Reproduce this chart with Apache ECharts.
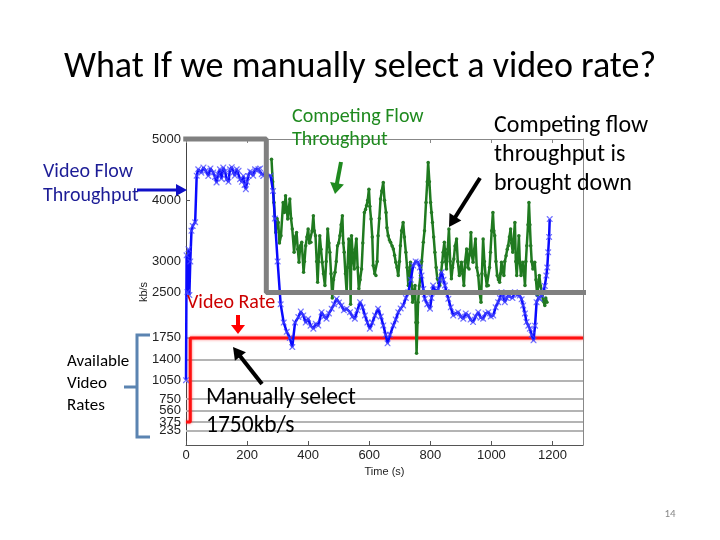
<!DOCTYPE html>
<html>
<head>
<meta charset="utf-8">
<script src="https://cdn.jsdelivr.net/npm/echarts@6/dist/echarts.min.js"></script>
<style>html,body{margin:0;padding:0;background:#fff;}#c{width:720px;height:540px;}</style>
</head>
<body>
<div id="c"></div>
<script>
// ---- data ----
var yTicks = [750, 1050, 1400, 1750, 2500, 3000, 4000, 5000];
var yTicksLow = [235, 375, 560];   // crowded labels, each drawn on its own label-only axis
var rateLines = [235, 375, 560, 750, 1050, 1400, 1750];
var xTicks = [0, 200, 400, 600, 800, 1000, 1200];

var videoRateT = [0, 14, 14, 1300];
var videoRateV = [375, 375, 1750, 1750];

var blueT = [0,2,5,8,11,14,18,22,30,35,40,50,57,65,73,80,89,95,100,105,111,116,122,128,133,139,144,150,155,160,166,172,177,183,188,192,196,200,204,210,215,220,226,232,237,243,248,253,
  277,285,291,300,310,320,330,340,348,357,368,376,384,392,400,408,417,425,433,444,452,460,468,477,485,493,501,509,517,526,537,545,553,561,570,578,586,594,602,610,619,629,638,646,654,660,668,679,687,695,703,711,720,728,736,744,752,760,766,771,777,782,790,799,804,809,817,826,831,837,843,848,853,859,867,875,883,891,900,908,916,924,932,940,948,957,965,973,981,990,998,1006,1014,1022,1028,1033,1039,1044,1050,1055,1061,1069,1077,1085,1093,1099,1104,1110,1115,1121,1126,1132,1138,1143,1148,1154,1159,1165,1170,1175,1180,1183,1186,1189,1191];
var blueV = [1060,3100,2500,3200,2450,3000,3500,3580,3640,4400,4506,4450,4533,4480,4397,4520,4452,4380,4289,4420,4506,4350,4533,4470,4343,4300,4506,4540,4452,4400,4506,4480,4343,4300,4397,4250,4180,4300,4397,4470,4452,4400,4506,4480,4506,4520,4425,4397,
  4400,4150,3700,3000,2300,2000,1850,1750,1600,2000,2090,2180,2117,2000,2063,1950,1900,1980,1954,2171,2100,2063,2150,2226,2300,2389,2330,2280,2200,2226,2171,2100,2063,2200,2334,2250,2117,2000,1900,2000,2117,2226,2100,1954,1800,1661,1800,1954,2050,2171,2230,2280,2400,2497,2700,2932,3000,2986,2900,2769,2550,2389,2300,2226,2400,2606,2500,2550,2700,2823,2700,2606,2500,2389,2250,2117,2150,2171,2100,2063,2150,2117,2050,2008,2100,2171,2080,2063,2150,2171,2100,2117,2250,2334,2400,2497,2420,2334,2400,2443,2443,2400,2497,2450,2443,2380,2280,2150,2008,1950,1900,1800,1710,1950,2334,2400,2389,2450,2497,2600,2769,2900,3149,3400,3692];

var greenT = [280,284,288,294,298,302,306,311,318,322,326,333,340,344,348,354,358,362,366,370,374,379,385,388,392,396,400,404,409,413,417,420,424,428,431,434,438,442,446,450,455,459,464,468,471,475,479,483,488,492,496,500,504,508,512,515,518,522,526,529,533,537,539,542,546,551,554,558,562,566,570,575,579,584,588,591,595,599,602,606,610,613,618,622,626,629,633,637,641,646,650,655,658,662,666,670,675,679,683,687,691,695,699,702,706,711,715,720,724,728,732,735,739,742,746,750,753,755,758,760,764,768,772,777,781,786,790,793,797,801,804,807,811,815,819,823,827,831,835,839,842,846,850,853,857,861,865,869,873,877,881,886,890,895,898,902,906,910,914,919,923,927,930,933,936,940,944,948,952,957,961,966,969,973,977,981,985,990,994,997,1001,1005,1008,1011,1015,1019,1023,1027,1030,1033,1037,1041,1044,1048,1052,1055,1059,1063,1066,1070,1073,1077,1080,1083,1087,1090,1093,1097,1100,1103,1107,1110,1113,1116,1120,1123,1126,1129,1132,1136,1139,1142,1146,1150,1153,1157,1161,1166,1170,1175,1178,1182];
var greenV = [4669,4300,3963,3474,3700,3637,3300,3420,3963,3800,4072,3692,4018,3700,3529,3149,3400,3474,3200,2986,3250,3312,2823,3000,3257,3400,3529,3300,3312,3500,3746,3500,3420,3000,2660,3000,3420,3200,2986,2800,2606,3000,3529,3300,3149,2800,2400,2700,2823,3000,3257,3300,3420,3600,3746,3300,3149,2800,2497,2900,3366,3300,2300,3420,3100,2877,3200,3366,2900,2552,2700,2877,3300,3800,3850,3909,4000,4180,3900,3692,3400,2932,2800,2769,3000,3420,3700,4018,4150,4289,4000,3800,3550,3420,3350,3312,3250,3203,3100,2986,2900,2769,3000,3257,3500,3637,3400,3149,2900,2606,2800,2986,2600,2334,2500,2606,2000,1500,2000,2334,2600,2769,3000,3312,3500,3963,4300,4614,4300,3963,3800,3637,3400,3149,2900,2715,2650,2606,2800,2986,3150,3312,3000,2877,3200,3529,3000,2715,2900,3040,3250,3366,3000,2769,2850,2986,2800,2606,3000,3203,2900,2877,3200,3474,3100,2986,3200,3366,2900,2769,2500,2334,2800,3366,3000,2769,2600,2606,2900,3149,3500,3800,3500,3420,3000,2769,2700,2660,2800,2986,2850,2769,3000,3094,3200,3257,3400,3529,3300,3149,3350,3637,3000,2769,3100,3420,3000,2769,2900,2986,2800,2606,3000,3257,3600,3963,3600,3257,3000,2877,2950,2986,2700,2443,2600,2769,2600,2443,2350,2280,2400,2334];

// highlight box (gray outline) in data coordinates
var boxT = [-9, 263, 263, 1312];
var boxV = [5000, 5000, 2490, 2490];

function zip(a, b) { return a.map(function (v, i) { return [v, b[i]]; }); }

var FONT = "Carlito, Lato, 'Open Sans', sans-serif";

function arrow(x1, y1, x2, y2, color, w, hl, hw) {
  var dx = x2 - x1, dy = y2 - y1, L = Math.sqrt(dx * dx + dy * dy);
  var ux = dx / L, uy = dy / L, px = -uy, py = ux;
  var bx = x2 - ux * hl, by = y2 - uy * hl;
  return [
    { type: 'line', z: 100, shape: { x1: x1, y1: y1, x2: bx + ux * 1, y2: by + uy * 1 }, style: { stroke: color, lineWidth: w } },
    { type: 'polygon', z: 100, shape: { points: [[x2, y2], [bx + px * hw, by + py * hw], [bx - px * hw, by - py * hw]] }, style: { fill: color } }
  ];
}
function txt(s, x, y, size, color, align) {
  return { type: 'text', z: 100, x: x, y: y, style: { text: s, fill: color, font: size + 'px ' + FONT, textAlign: align || 'left', textVerticalAlign: 'middle' } };
}

var xMark = 'path://M0,0L1.5,0L5,3.5L8.5,0L10,0L10,1.5L6.5,5L10,8.5L10,10L8.5,10L5,6.5L1.5,10L0,10L0,8.5L3.5,5L0,1.5Z';

var graphics = [];
graphics.push(txt('What If we manually select a video rate?', 360, 68, 36, '#000', 'center'));
graphics.push(txt('Competing Flow', 292, 117, 20, '#1f8a1f'));
graphics.push(txt('Throughput', 292, 140, 20, '#1f8a1f'));
graphics.push(txt('Competing flow', 494, 126, 24, '#000'));
graphics.push(txt('throughput is', 494, 155, 24, '#000'));
graphics.push(txt('brought down', 494, 184, 24, '#000'));
graphics.push(txt('Video Flow', 43, 172, 20, '#1c1c96'));
graphics.push(txt('Throughput', 43, 196, 20, '#1c1c96'));
graphics.push(txt('Video Rate', 187, 303, 20, '#cc0000'));
graphics.push(txt('Available', 67, 362, 17, '#000'));
graphics.push(txt('Video', 67, 384, 17, '#000'));
graphics.push(txt('Rates', 67, 406, 17, '#000'));
graphics.push(txt('Manually select', 206, 398, 23.5, '#000'));
graphics.push(txt('1750kb/s', 206, 426, 23.5, '#000'));
graphics.push(txt('14', 670, 514, 11, '#888', 'center'));
graphics = graphics.concat(arrow(137, 190, 187, 190, '#1010c8', 3, 11, 6));
graphics = graphics.concat(arrow(341, 162, 335, 194, '#1f8a1f', 4, 11, 7));
graphics = graphics.concat(arrow(238, 315, 238, 334, '#ff0000', 4, 9, 7));
graphics = graphics.concat(arrow(480, 178, 449, 227, '#000', 4, 12, 7));
graphics = graphics.concat(arrow(262, 384, 233, 347, '#000', 4, 12, 7));
graphics.push({ type: 'polyline', z: 100, shape: { points: [[150, 335], [137, 335], [137, 437], [150, 437]] }, style: { stroke: '#5b84b1', lineWidth: 3, fill: null } });
graphics.push({ type: 'line', z: 100, shape: { x1: 137, y1: 387, x2: 124, y2: 387 }, style: { stroke: '#5b84b1', lineWidth: 3 } });

function plain(v) { return String(v); }
var labelFont = { fontFamily: 'Liberation Sans', fontSize: 13, color: '#222' };

var yAxes = [{
  type: 'value', min: 0, max: 5000, position: 'left',
  name: 'kb/s', nameLocation: 'middle', nameGap: 37, nameRotate: 90, nameMoveOverlap: false,
  nameTextStyle: { fontFamily: 'Liberation Sans', fontSize: 11, color: '#222' },
  axisLine: { show: true, lineStyle: { color: '#444', width: 1 } },
  axisTick: { show: true, inside: true, length: 4, customValues: yTicks.concat(yTicksLow), lineStyle: { color: '#555' } },
  axisLabel: Object.assign({ customValues: yTicks, formatter: plain, hideOverlap: false, margin: 5 }, labelFont),
  splitLine: { show: false }
}, {
  type: 'value', min: 0, max: 5000, position: 'right',
  axisLine: { show: true, onZero: false, lineStyle: { color: '#888', width: 1 } },
  axisTick: { show: false }, axisLabel: { show: false }, splitLine: { show: false }
}];
yTicksLow.forEach(function (v) {
  yAxes.push({
    type: 'value', min: 0, max: 5000, position: 'left', offset: 0,
    axisLine: { show: false }, axisTick: { show: false }, splitLine: { show: false },
    axisLabel: Object.assign({ customValues: [v], formatter: plain, margin: 5 }, labelFont)
  });
});

var chart = echarts.init(document.getElementById('c'));
chart.setOption({
  animation: false,
  backgroundColor: '#fff',
  grid: { left: 186, right: 137, top: 139, bottom: 95 },
  xAxis: [{
    type: 'value', min: 0, max: 1300, interval: 200, position: 'bottom',
    name: 'Time (s)', nameLocation: 'middle', nameGap: 15,
    nameTextStyle: { fontFamily: 'Liberation Sans', fontSize: 11, color: '#222' },
    axisLine: { show: true, lineStyle: { color: '#555', width: 1 } },
    axisTick: { show: true, inside: true, length: 4, customValues: xTicks, lineStyle: { color: '#555' } },
    axisLabel: Object.assign({ customValues: xTicks, formatter: plain, hideOverlap: false, margin: 4 }, labelFont),
    splitLine: { show: false }
  }, {
    type: 'value', min: 0, max: 1300, position: 'top',
    axisLine: { show: true, onZero: false, lineStyle: { color: '#888', width: 1 } },
    axisTick: { show: true, inside: true, length: 4, customValues: xTicks, lineStyle: { color: '#888' } },
    axisLabel: { show: false }, splitLine: { show: false }
  }],
  yAxis: yAxes,
  series: [{
    type: 'line', name: 'Video Rate', data: zip(videoRateT, videoRateV),
    showSymbol: false, z: 3,
    lineStyle: { color: '#ff1010', width: 3, shadowColor: 'rgba(255,40,40,0.7)', shadowBlur: 3 },
    markLine: {
      silent: true, symbol: 'none', label: { show: false }, z: 1,
      lineStyle: { color: '#b4b4b4', width: 2, type: 'solid' },
      data: rateLines.map(function (v) { return { yAxis: v }; })
    }
  }, {
    type: 'line', name: 'Competing Flow', data: zip(greenT, greenV), z: 4,
    symbol: 'circle', symbolSize: 3.5, showAllSymbol: true,
    itemStyle: { color: '#237a23' },
    lineStyle: { color: '#1f7a1f', width: 2.5 }
  }, {
    type: 'line', name: 'Video Flow', data: zip(blueT, blueV), z: 5,
    symbol: xMark, symbolSize: 6, showAllSymbol: true,
    itemStyle: { color: 'rgba(70,70,255,0.75)' },
    lineStyle: { color: '#0a0aff', width: 2.5 }
  }, {
    type: 'line', name: 'box', data: zip(boxT, boxV), z: 6, clip: false,
    showSymbol: false, lineStyle: { color: '#808080', width: 5 }
  }],
  graphic: graphics
});
</script>
</body>
</html>
